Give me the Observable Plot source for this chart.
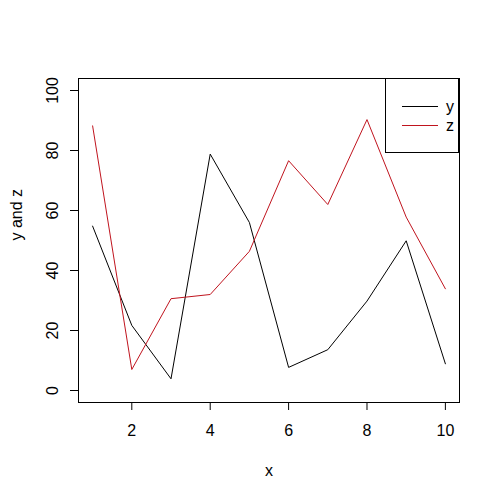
<!DOCTYPE html>
<html>
<head>
<meta charset="utf-8">
<script src="https://cdn.jsdelivr.net/npm/d3@7"></script>
<script src="https://cdn.jsdelivr.net/npm/@observablehq/plot@0.6"></script>
<style>
  html, body { margin: 0; padding: 0; background: #fff; }
  #chart svg { display: block; }
</style>
</head>
<body>
<div id="chart"></div>
<script>
const xs = [1, 2, 3, 4, 5, 6, 7, 8, 9, 10];
const yVals = [54.8, 21.7, 3.9, 78.8, 56.0, 7.7, 13.6, 29.8, 49.9, 8.9];
const zVals = [88.2, 7.0, 30.6, 32.0, 46.4, 76.6, 62.0, 90.3, 57.8, 33.9];
const xTicks = [2, 4, 6, 8, 10];
const yTicks = [0, 20, 40, 60, 80, 100];
const seriesNames = ["y", "z"];
const seriesColors = ["#000000", "#c0141e"];

const yData = xs.map((x, i) => ({x, v: yVals[i]}));
const zData = xs.map((x, i) => ({x, v: zVals[i]}));

(function () {
  const W = 500, H = 500;
  const mL = 78, mR = 41, mT = 78, mB = 98;
  const font = "'Liberation Sans', Arial, sans-serif";
  const fs = 16;

  const plot = Plot.plot({
    width: W,
    height: H,
    marginLeft: mL,
    marginRight: mR,
    marginTop: mT,
    marginBottom: mB,
    style: {fontFamily: font, fontSize: fs + "px", color: "#000", background: "#fff"},
    x: {domain: [0.64, 10.36]},
    y: {domain: [-4, 104]},
    marks: [
      Plot.line(yData, {x: "x", y: "v", stroke: seriesColors[0], strokeWidth: 1}),
      Plot.line(zData, {x: "x", y: "v", stroke: seriesColors[1], strokeWidth: 1}),
      Plot.frame({stroke: "#000", strokeWidth: 1}),
      Plot.axisX({ticks: xTicks, tickSize: 8, tickPadding: 14, tickFormat: d => String(d), label: null, fontSize: fs}),
      Plot.axisY({ticks: yTicks, tickSize: 8, tickPadding: 13, tickRotate: -90, tickFormat: d => String(d), label: null, fontSize: fs}),
      Plot.text(["x"], {frameAnchor: "bottom", dy: 68, text: d => d, fontSize: fs, lineAnchor: "middle"}),
      Plot.text(["y and z"], {frameAnchor: "left", dx: -62, rotate: -90, text: d => d, fontSize: fs})
    ]
  });

  document.getElementById("chart").appendChild(plot);

  // Legend (R-style boxed legend at top-right of plot region)
  const svg = d3.select(plot);
  const rightEdge = W - mR, topEdge = mT;
  const boxW = 74, boxH = 74;
  const g = svg.append("g").attr("font-family", font).attr("font-size", fs).attr("text-anchor", "start");
  g.append("rect")
    .attr("x", rightEdge - boxW + 0.5).attr("y", topEdge + 0.5)
    .attr("width", boxW - 1).attr("height", boxH)
    .attr("fill", "#fff").attr("stroke", "#000");
  seriesNames.forEach((name, i) => {
    const ly = topEdge + 28.5 + i * 19;
    g.append("line")
      .attr("x1", rightEdge - 57).attr("x2", rightEdge - 21)
      .attr("y1", ly).attr("y2", ly)
      .attr("stroke", seriesColors[i]).attr("stroke-width", 1);
    g.append("text")
      .attr("x", rightEdge - 13).attr("y", ly)
      .attr("dy", "0.32em")
      .attr("fill", "#000")
      .text(name);
  });
})();
</script>
</body>
</html>
